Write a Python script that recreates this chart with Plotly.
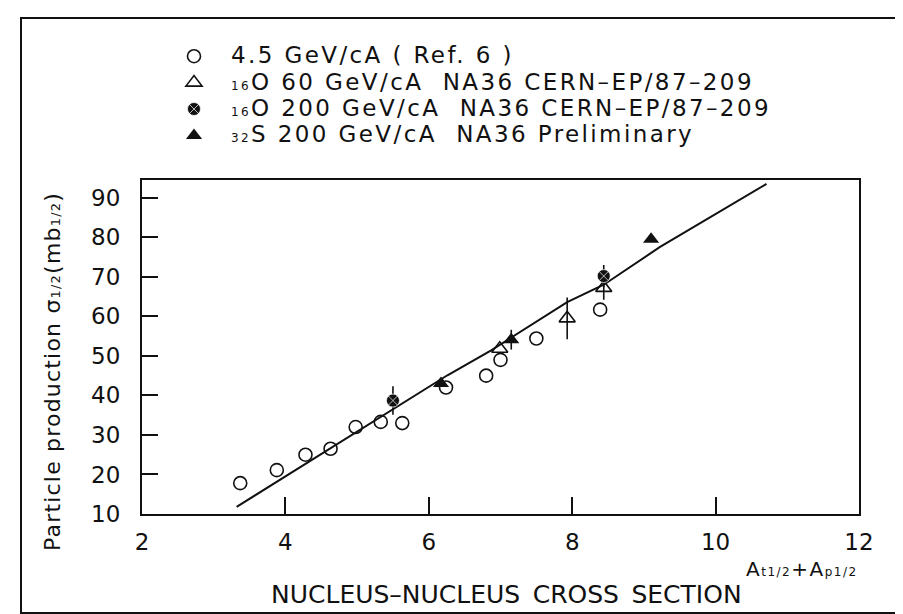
import plotly.graph_objects as go

# ---------------- data ----------------
x_45 = [3.37, 3.88, 4.28, 4.63, 4.98, 5.33, 5.63, 6.24, 6.80, 7.00, 7.50, 8.39]
y_45 = [17.8, 21.1, 25.0, 26.5, 32.0, 33.3, 33.0, 42.0, 45.0, 49.0, 54.4, 61.7]

x_o60 = [6.99, 7.93, 8.44]
y_o60 = [51.8, 59.5, 67.2]
e_o60 = [0.0, 5.3, 3.0]

x_o200 = [5.50, 8.44]
y_o200 = [38.7, 70.2]
e_o200 = [3.6, 2.8]

x_s200 = [6.17, 7.15, 9.10]
y_s200 = [43.0, 54.1, 79.5]
e_s200 = [0.0, 2.5, 0.0]

fit_x = [3.32, 6.26, 6.87, 7.93, 8.44, 9.22, 10.71]
fit_y = [11.8, 45.1, 51.4, 63.6, 68.0, 77.5, 93.5]

x_ticks = [2, 4, 6, 8, 10, 12]
y_ticks = [10, 20, 30, 40, 50, 60, 70, 80, 90]

SM = '<span style="font-size:12px">{}</span>'
names = [
    "4.5 GeV/cA ( Ref. 6 )",
    SM.format("16") + "O 60 GeV/cA\u00a0\u00a0NA36 CERN\u2013EP/87\u2013209",
    SM.format("16") + "O 200 GeV/cA\u00a0\u00a0NA36 CERN\u2013EP/87\u2013209",
    SM.format("32") + "S 200 GeV/cA\u00a0\u00a0NA36 Preliminary",
]
y_title = "Particle production \u03c3" + '<span style="font-size:13px">1/2</span>' + \
          "(mb" + '<span style="font-size:13px">1/2</span>' + ")"
x_title = "NUCLEUS\u2013NUCLEUS\u2002CROSS\u2002SECTION"
x_unit = "A" + SM.format("t1/2") + "+A" + SM.format("p1/2")

# ---------------- layout constants ----------------
W, H = 903, 614
L, R, T, B = 134, 52, 172, 108
PW, PH = W - L - R, H - T - B
FONT = "DejaVu Sans"
INK = "#111111"


def px(xp):
    return (xp - L) / PW


def py(yp):
    return (H - B - yp) / PH


def lbl(s, size, ls):
    return f'<span style="font-size:{size}px;letter-spacing:{ls}px">{s}</span>'


fig = go.Figure()

fig.add_trace(go.Scatter(x=fit_x, y=fit_y, mode="lines",
                         line=dict(color=INK, width=2), showlegend=False,
                         hoverinfo="skip"))

fig.add_trace(go.Scatter(
    x=x_45, y=y_45, mode="markers", name=lbl(names[0], 23, 2.4),
    marker=dict(symbol="circle-open", size=13, color=INK, line=dict(width=1.6))))

fig.add_trace(go.Scatter(
    x=x_o60, y=y_o60, mode="markers", name=lbl(names[1], 23, 2.4),
    marker=dict(symbol="triangle-up-open", size=14, color=INK, line=dict(width=1.6)),
    error_y=dict(type="data", array=e_o60, width=0, thickness=1.6, color=INK)))

fig.add_trace(go.Scatter(
    x=x_o200, y=y_o200, mode="markers", name=lbl(names[2], 23, 2.4),
    marker=dict(symbol="circle-x", size=13, color=INK,
                line=dict(width=0.7, color="white")),
    error_y=dict(type="data", array=e_o200, width=0, thickness=1.6, color=INK)))

fig.add_trace(go.Scatter(
    x=x_s200, y=y_s200, mode="markers", name=lbl(names[3], 23, 2.4),
    marker=dict(symbol="triangle-up", size=14, color=INK),
    error_y=dict(type="data", array=e_s200, width=0, thickness=1.6, color=INK)))

axis_common = dict(showgrid=False, zeroline=False, showline=True, mirror=True,
                   linecolor=INK, linewidth=2, ticks="inside", tickwidth=2,
                   tickcolor=INK, tickfont=dict(family=FONT, size=23, color=INK))

fig.update_xaxes(range=[2, 12], tickvals=x_ticks, ticklen=17,
                 ticklabelstandoff=6, **axis_common)
fig.update_yaxes(range=[10, 94.5], tickvals=y_ticks, ticklen=16,
                 ticklabelstandoff=15, **axis_common)

ann = [
    dict(text=lbl(y_title, 22, 1.2), x=px(44), y=py(364), textangle=-90),
    dict(text=lbl(x_title, 25, 0), x=px(498), y=py(586)),
    dict(text=lbl(x_unit, 20, 1.5), x=px(794), y=py(561)),
]
for a in ann:
    a.update(xref="paper", yref="paper", showarrow=False,
             xanchor="center", yanchor="middle",
             font=dict(family=FONT, size=20, color=INK))

fig.update_layout(
    width=W, height=H,
    margin=dict(l=L, r=R, t=T, b=B),
    paper_bgcolor="white", plot_bgcolor="white",
    font=dict(family=FONT, color=INK),
    annotations=ann,
    legend=dict(x=px(149), y=py(30), xanchor="left", yanchor="top",
                font=dict(family=FONT, size=18, color=INK),
                itemwidth=64, bgcolor="rgba(0,0,0,0)", borderwidth=0),
    shapes=[dict(type="rect", xref="paper", yref="paper",
                 x0=px(13), x1=px(930), y0=py(605), y1=py(10),
                 line=dict(color=INK, width=2))],
)

fig.write_html("out.html")
